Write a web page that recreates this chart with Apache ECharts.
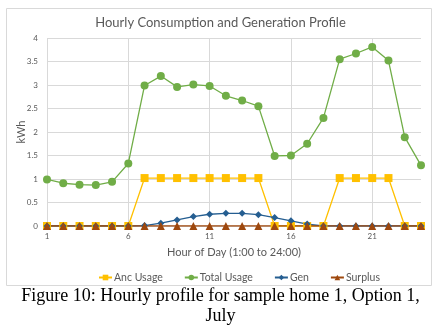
<!DOCTYPE html>
<html><head><meta charset="utf-8">
<script src="https://cdn.jsdelivr.net/npm/echarts@6/dist/echarts.min.js"></script>
<style>html,body{margin:0;padding:0;background:#fff}#c{width:441px;height:332px}</style>
</head><body><div id="c"></div>
<script>
const hours = ['1','2','3','4','5','6','7','8','9','10','11','12','13','14','15','16','17','18','19','20','21','22','23','24'];
const ancUsage = [0,0,0,0,0,0,1.02,1.02,1.02,1.02,1.02,1.02,1.02,1.02,0,0,0,0,1.02,1.02,1.02,1.02,0,0];
const totalUsage = [0.99,0.91,0.88,0.87,0.94,1.33,2.99,3.19,2.96,3.01,2.98,2.77,2.67,2.55,1.49,1.5,1.75,2.3,3.55,3.67,3.81,3.52,1.89,1.29];
const gen = [0,0,0,0,0,0,0.01,0.06,0.13,0.2,0.25,0.27,0.27,0.24,0.18,0.11,0.04,0,0,0,0,0,0,0];
const surplus = [0,0,0,0,0,0,0,0,0,0,0,0,0,0,0,0,0,0,0,0,0,0,0,0];
const yTicks = [0,0.5,1,1.5,2,2.5,3,3.5,4];

const font = 'Lato';
const grey = '#595959';
const chart = echarts.init(document.getElementById('c'), null, {renderer:'canvas'});
function mk(name, data, color, symbol, size){
  return {name, type:'line', data, symbol, symbolSize:size, showAllSymbol:true,
    lineStyle:{color, width:1.3}, itemStyle:{color}, animation:false};
}
chart.setOption({
  animation:false,
  title:{text:'Hourly Consumption and Generation Profile', left:'center', top:11,
    textStyle:{fontFamily:font, fontSize:13, fontWeight:'normal', color:grey}},
  grid:{left:47, right:20, top:38, bottom:106},
  xAxis:{type:'category', data:hours, boundaryGap:false,
    name:'Hour of Day (1:00 to 24:00)', nameLocation:'middle', nameGap:21, nameMoveOverlap:false,
    nameTextStyle:{fontFamily:font, fontSize:11, color:grey},
    axisLine:{show:false}, axisTick:{show:false},
    axisLabel:{interval:4, fontFamily:font, fontSize:8, color:grey, margin:6},
    splitLine:{show:true, interval:4, lineStyle:{color:'#d9d9d9', width:1}}},
  yAxis:{type:'value', min:0, max:4, interval:0.5,
    name:'kWh', nameLocation:'middle', nameGap:20, nameMoveOverlap:false,
    nameTextStyle:{fontFamily:font, fontSize:11, color:grey},
    axisLine:{show:false}, axisTick:{show:false},
    axisLabel:{fontFamily:font, fontSize:8, color:grey, margin:9,
      formatter:v=>yTicks.includes(v)?String(v):''},
    splitLine:{lineStyle:{color:'#d9d9d9', width:1}}},
  legend:{top:267, left:93, itemWidth:13, itemHeight:7, itemGap:21,
    textStyle:{fontFamily:font, fontSize:10.5, color:grey, padding:[0,0,0,-3]}},
  series:[
    mk('Anc Usage', ancUsage, '#FFC000', 'rect', 8),
    mk('Total Usage', totalUsage, '#70AD47', 'circle', 8),
    mk('Gen', gen, '#255E91', 'diamond', 7),
    mk('Surplus', surplus, '#9E480E', 'triangle', 8)
  ],
  graphic:[
    {type:'rect', shape:{x:6.5, y:8.5, width:425, height:277}, style:{fill:null, stroke:'#d9d9d9', lineWidth:1}, silent:true, z:-1},
    {type:'text', left:'center', top:287, style:{text:'Figure 10: Hourly profile for sample home 1, Option 1,', font:'18px "Liberation Serif"', fill:'#000'}},
    {type:'text', left:'center', top:307, style:{text:'July', font:'18px "Liberation Serif"', fill:'#000'}}
  ]
});
</script></body></html>
